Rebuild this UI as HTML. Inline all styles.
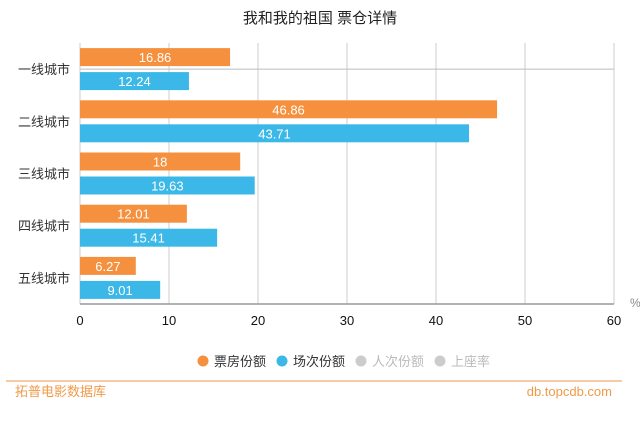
<!DOCTYPE html>
<html><head><meta charset="utf-8"><style>
body{margin:0;background:#fff;font-family:"Liberation Sans","Noto Sans CJK SC",sans-serif;}
#wrap{position:relative;width:640px;height:434px;overflow:hidden;}
</style></head><body>
<div id="wrap">
<svg id="chart" width="640" height="434"></svg>
</div>
<script>
const categories=["一线城市","二线城市","三线城市","四线城市","五线城市"];
const boxOffice=[16.86,46.86,18,12.01,6.27];
const screenings=[12.24,43.71,19.63,15.41,9.01];
const ticks=[0,10,20,30,40,50,60];
const legendLabels=["票房份额","场次份额","人次份额","上座率"];

const NS="http://www.w3.org/2000/svg";
const svg=document.getElementById('chart');
const X0=80,X1=614,Y0=43,Y1=304,MAX=60;
const xs=v=>X0+(X1-X0)*v/MAX;
const band=(Y1-Y0)/categories.length;
function el(t,a,txt){const e=document.createElementNS(NS,t);for(const k in a)e.setAttribute(k,a[k]);if(txt!==undefined)e.textContent=txt;svg.appendChild(e);return e;}
const f='"Liberation Sans","Noto Sans CJK SC",sans-serif';

let e=el('text',{x:320,y:23,'text-anchor':'middle','font-size':15,fill:'#222','font-family':f},'我和我的祖国 票仓详情');



ticks.forEach(t=>{
  if(t>0){const g=el('line',{x1:xs(t),x2:xs(t),y1:Y0,y2:Y1,stroke:'#ccc','stroke-width':1});
  
  }
  const l=el('text',{x:xs(t),y:325,'text-anchor':'middle','font-size':13,fill:'#111','font-family':f},String(t));
  
  
});
e=el('line',{x1:X0,x2:X1,y1:Y0+band/2,y2:Y0+band/2,stroke:'#bbb','stroke-width':1});


e=el('line',{x1:X0,x2:X0,y1:Y0,y2:Y1,stroke:'#ccc','stroke-width':1});


e=el('line',{x1:X0,x2:X1,y1:Y1,y2:Y1,stroke:'#999','stroke-width':1.5});


e=el('text',{x:630,y:307,'font-size':12,fill:'#888','font-family':f},'%');



categories.forEach((c,i)=>{
  const cy=Y0+band*i+band/2;
  const l=el('text',{x:70,y:cy+5,'text-anchor':'end','font-size':13,fill:'#333','font-family':f},c);
  
  
  [[boxOffice,'#f5913e',-21],[screenings,'#3bb8e8',3]].forEach(([arr,col,off])=>{
    const v=arr[i];
    const r=el('rect',{x:X0,y:cy+off,width:xs(v)-X0,height:18,fill:col});
    
    
    const t=el('text',{x:(X0+xs(v))/2,y:cy+off+14,'text-anchor':'middle','font-size':13,fill:'#fff','font-family':f},String(v));
    
    
  });
});

const lcol=['#f5913e','#3bb8e8','#ccc','#ccc'];
const ltxt=['#333','#333','#bbb','#bbb'];
const lx=[203,282,361,440];
legendLabels.forEach((s,i)=>{
  const c=el('circle',{cx:lx[i],cy:361,r:5.5,fill:lcol[i]});
  
  
  const t=el('text',{x:lx[i]+11,y:366,'font-size':13,fill:ltxt[i],'font-family':f},s);
  
  
});
e=el('line',{x1:6,x2:622,y1:381,y2:381,stroke:'#f0b98a','stroke-width':1.5});


e=el('text',{x:15,y:396,'font-size':13,fill:'#f09a48','font-family':f},'拓普电影数据库');


e=el('text',{x:612,y:396,'text-anchor':'end','font-size':13,fill:'#f09a48','font-family':f},'db.topcdb.com');


</script>
</body></html>
